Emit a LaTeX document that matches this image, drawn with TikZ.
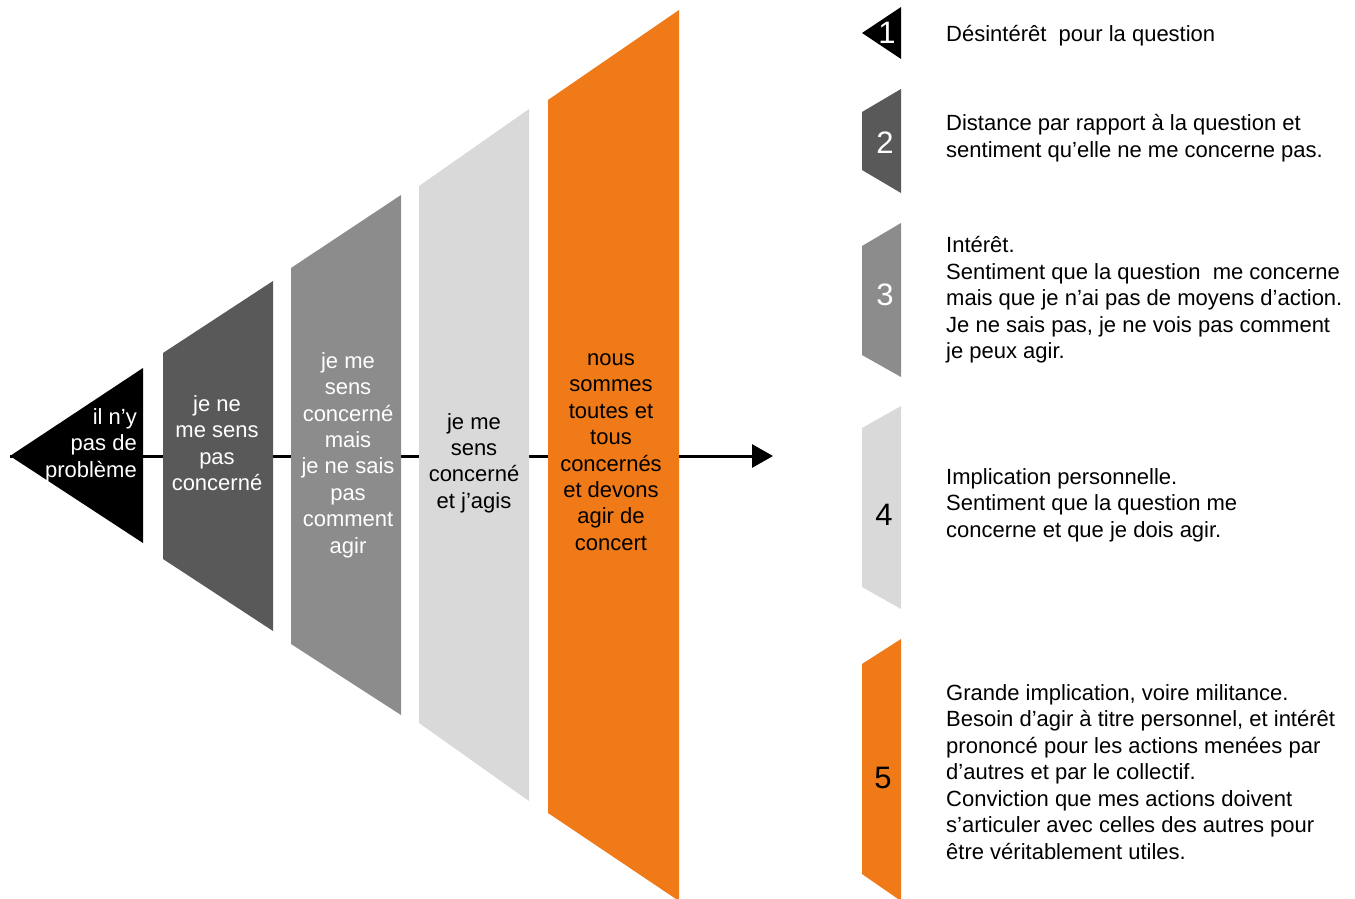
\documentclass[tikz,border=0pt]{standalone}
\usepackage{fontspec}
\setmainfont{Liberation Sans}
\usetikzlibrary{arrows.meta}

\definecolor{stagedark}{HTML}{595959}
\definecolor{stagemid}{HTML}{8C8C8C}
\definecolor{stagelight}{HTML}{D9D9D9}
\definecolor{stageorange}{HTML}{EF7A17}

\tikzset{
  stagetext/.style={align=center, inner sep=0pt, font=\fontsize{22}{26.4}\selectfont},
  legendtext/.style={anchor=west, align=left, inner sep=0pt, font=\fontsize{22}{26.5}\selectfont},
  legendnum/.style={inner sep=0pt, font=\fontsize{31}{31}\selectfont},
}

\begin{document}
\begin{tikzpicture}[x=1pt, y=-1pt]
      \useasboundingbox (0, 0) rectangle (1355, 899);

      % axis
      \coordinate (axisstart) at (10, 456);
      \coordinate (axisend) at (773, 456);
      \draw [line width=3pt, -{Triangle[length=21pt, width=23pt]}] (axisstart) -- (axisend);

      % stages
      \fill [black] (10, 456) -- (143, 368) -- (143, 543) -- cycle;
      \fill [stagedark] (163, 353) -- (273, 281) -- (273, 631) -- (163, 559) -- cycle;
      \fill [stagemid] (291, 268) -- (401, 195) -- (401, 715) -- (291, 644) -- cycle;
      \fill [stagelight] (419, 186) -- (529, 109) -- (529, 801) -- (419, 723) -- cycle;
      \fill [stageorange] (548, 100) -- (679, 10) -- (679, 901) -- (548, 813) -- cycle;

      \node [stagetext, white, anchor=east, align=right] (stage1) at (137, 445) {il n’y\\pas de\\problème};
      \node [stagetext, white] (stage2) at (217, 443) {je ne\\me sens\\pas\\concerné};
      \node [stagetext, white] (stage3) at (348, 455) {je me\\sens\\concerné\\mais\\je ne sais\\pas\\comment\\agir};
      \node [stagetext, black] (stage4) at (474, 463) {je me\\sens\\concerné\\et j’agis};
      \node [stagetext, black] (stage5) at (611, 452) {nous\\sommes\\toutes et\\tous\\concernés\\et devons\\agir de\\concert};

      % legend
      \fill [black] (862, 33) -- (901, 7) -- (901, 59) -- cycle;
      \fill [stagedark] (862, 112) -- (901, 89) -- (901, 193) -- (862, 170) -- cycle;
      \fill [stagemid] (862, 246) -- (901, 223) -- (901, 377) -- (862, 355) -- cycle;
      \fill [stagelight] (862, 428) -- (901, 406) -- (901, 609) -- (862, 587) -- cycle;
      \fill [stageorange] (862, 664) -- (901, 639) -- (901, 901) -- (862, 874) -- cycle;

      \node [legendnum, white] (num1) at (887, 33) {1};
      \node [legendnum, white] (num2) at (885, 143) {2};
      \node [legendnum, white] (num3) at (885, 295) {3};
      \node [legendnum, black] (num4) at (884, 515) {4};
      \node [legendnum, black] (num5) at (883, 778) {5};

      \node [legendtext] (text1) at (946, 36) {Désintérêt\ \ pour la question};
      \node [legendtext] (text2) at (946, 138) {Distance par rapport à la question et\\sentiment qu’elle ne me concerne pas.};
      \node [legendtext] (text3) at (946, 300) {Intérêt.\\Sentiment que la question\ \ me concerne\\mais que je n’ai pas de moyens d’action.\\Je ne sais pas, je ne vois pas comment\\je peux agir.};
      \node [legendtext] (text4) at (946, 505) {Implication personnelle.\\Sentiment que la question me\\concerne et que je dois agir.};
      \node [legendtext] (text5) at (946, 772) {Grande implication, voire militance.\\Besoin d’agir à titre personnel, et intérêt\\prononcé pour les actions menées par\\d’autres et par le collectif.\\Conviction que mes actions doivent\\s’articuler avec celles des autres pour\\être véritablement utiles.};
\end{tikzpicture}
\end{document}
